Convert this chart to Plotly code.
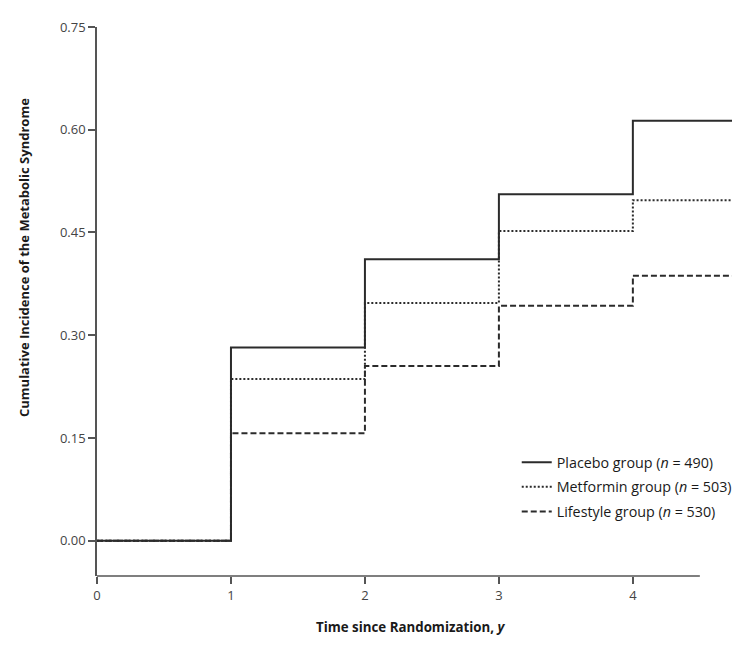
import plotly.graph_objects as go

# Data
time_points = [0, 1, 2, 3, 4, 4.74]
placebo = [0.0, 0.282, 0.411, 0.506, 0.613, 0.613]
metformin = [0.0, 0.236, 0.347, 0.452, 0.497, 0.497]
lifestyle = [0.0, 0.157, 0.255, 0.343, 0.387, 0.387]

series_names = [
    "Placebo group (<i>n</i> = 490)",
    "Metformin group (<i>n</i> = 503)",
    "Lifestyle group (<i>n</i> = 530)",
]
series_values = [placebo, metformin, lifestyle]
series_dash = ["solid", "2px,2px", "6px,3px"]

y_ticks = [0.0, 0.15, 0.30, 0.45, 0.60, 0.75]
x_ticks = [0, 1, 2, 3, 4]

FONT = "Open Sans, Noto Sans, sans-serif"
LINE = "#2b2b2b"

fig = go.Figure()
for i, (name, vals, dash) in enumerate(zip(series_names, series_values, series_dash)):
    fig.add_trace(go.Scatter(
        x=time_points, y=vals, mode="lines", name=name, legendgroup=f"g{i}",
        line=dict(shape="hv", color=LINE, width=2, dash=dash),
    ))

# page body has an 8px margin, so the figure is sized/offset to compensate
fig.update_layout(
    width=734, height=629,
    margin=dict(l=89, r=5, t=19, b=61),
    plot_bgcolor="white", paper_bgcolor="white",
    font=dict(family=FONT, color="#333333", size=13),
    showlegend=True,
    legend=dict(
        x=0.661, y=0.236, xanchor="left", yanchor="top",
        bgcolor="rgba(0,0,0,0)", font=dict(size=14.3, color="#1a1a1a"),
        tracegroupgap=3, itemwidth=30,
    ),
    xaxis=dict(
        range=[0, 4.74], tickvals=x_ticks, ticktext=[str(v) for v in x_ticks],
        showgrid=False, zeroline=False, showline=False,
        ticks="outside", ticklen=7, tickcolor="#555555", tickwidth=1.5,
        tickfont=dict(size=13, color="#444444"),
    ),
    yaxis=dict(
        range=[-0.0515, 0.75], tickvals=y_ticks, tickformat=".2f",
        showgrid=False, zeroline=False, showline=True,
        linecolor="#555555", linewidth=1.5,
        ticks="outside", ticklen=7, tickcolor="#555555", tickwidth=1.5,
        tickfont=dict(size=13, color="#444444"),
    ),
)

# x axis line ending before the curves end (as in the reference)
fig.add_shape(type="line", xref="x", yref="paper", x0=0, x1=4.5, y0=0, y1=0,
              line=dict(color="#555555", width=1.5))

fig.add_annotation(
    text="<b>Time since Randomization, <i>y</i></b>", xref="paper", yref="paper",
    x=(413 - 97) / 640, y=-51 / 549, xanchor="center", yanchor="middle",
    showarrow=False, font=dict(size=13.3, color="#1a1a1a", family=FONT),
)
fig.add_annotation(
    text="<b>Cumulative Incidence of the Metabolic Syndrome</b>", xref="paper", yref="paper",
    x=0, xshift=-73, y=(576 - 258) / 549, xanchor="center", yanchor="middle",
    textangle=-90, showarrow=False, font=dict(size=13, color="#1a1a1a", family=FONT),
)

fig.write_html("out.html")
